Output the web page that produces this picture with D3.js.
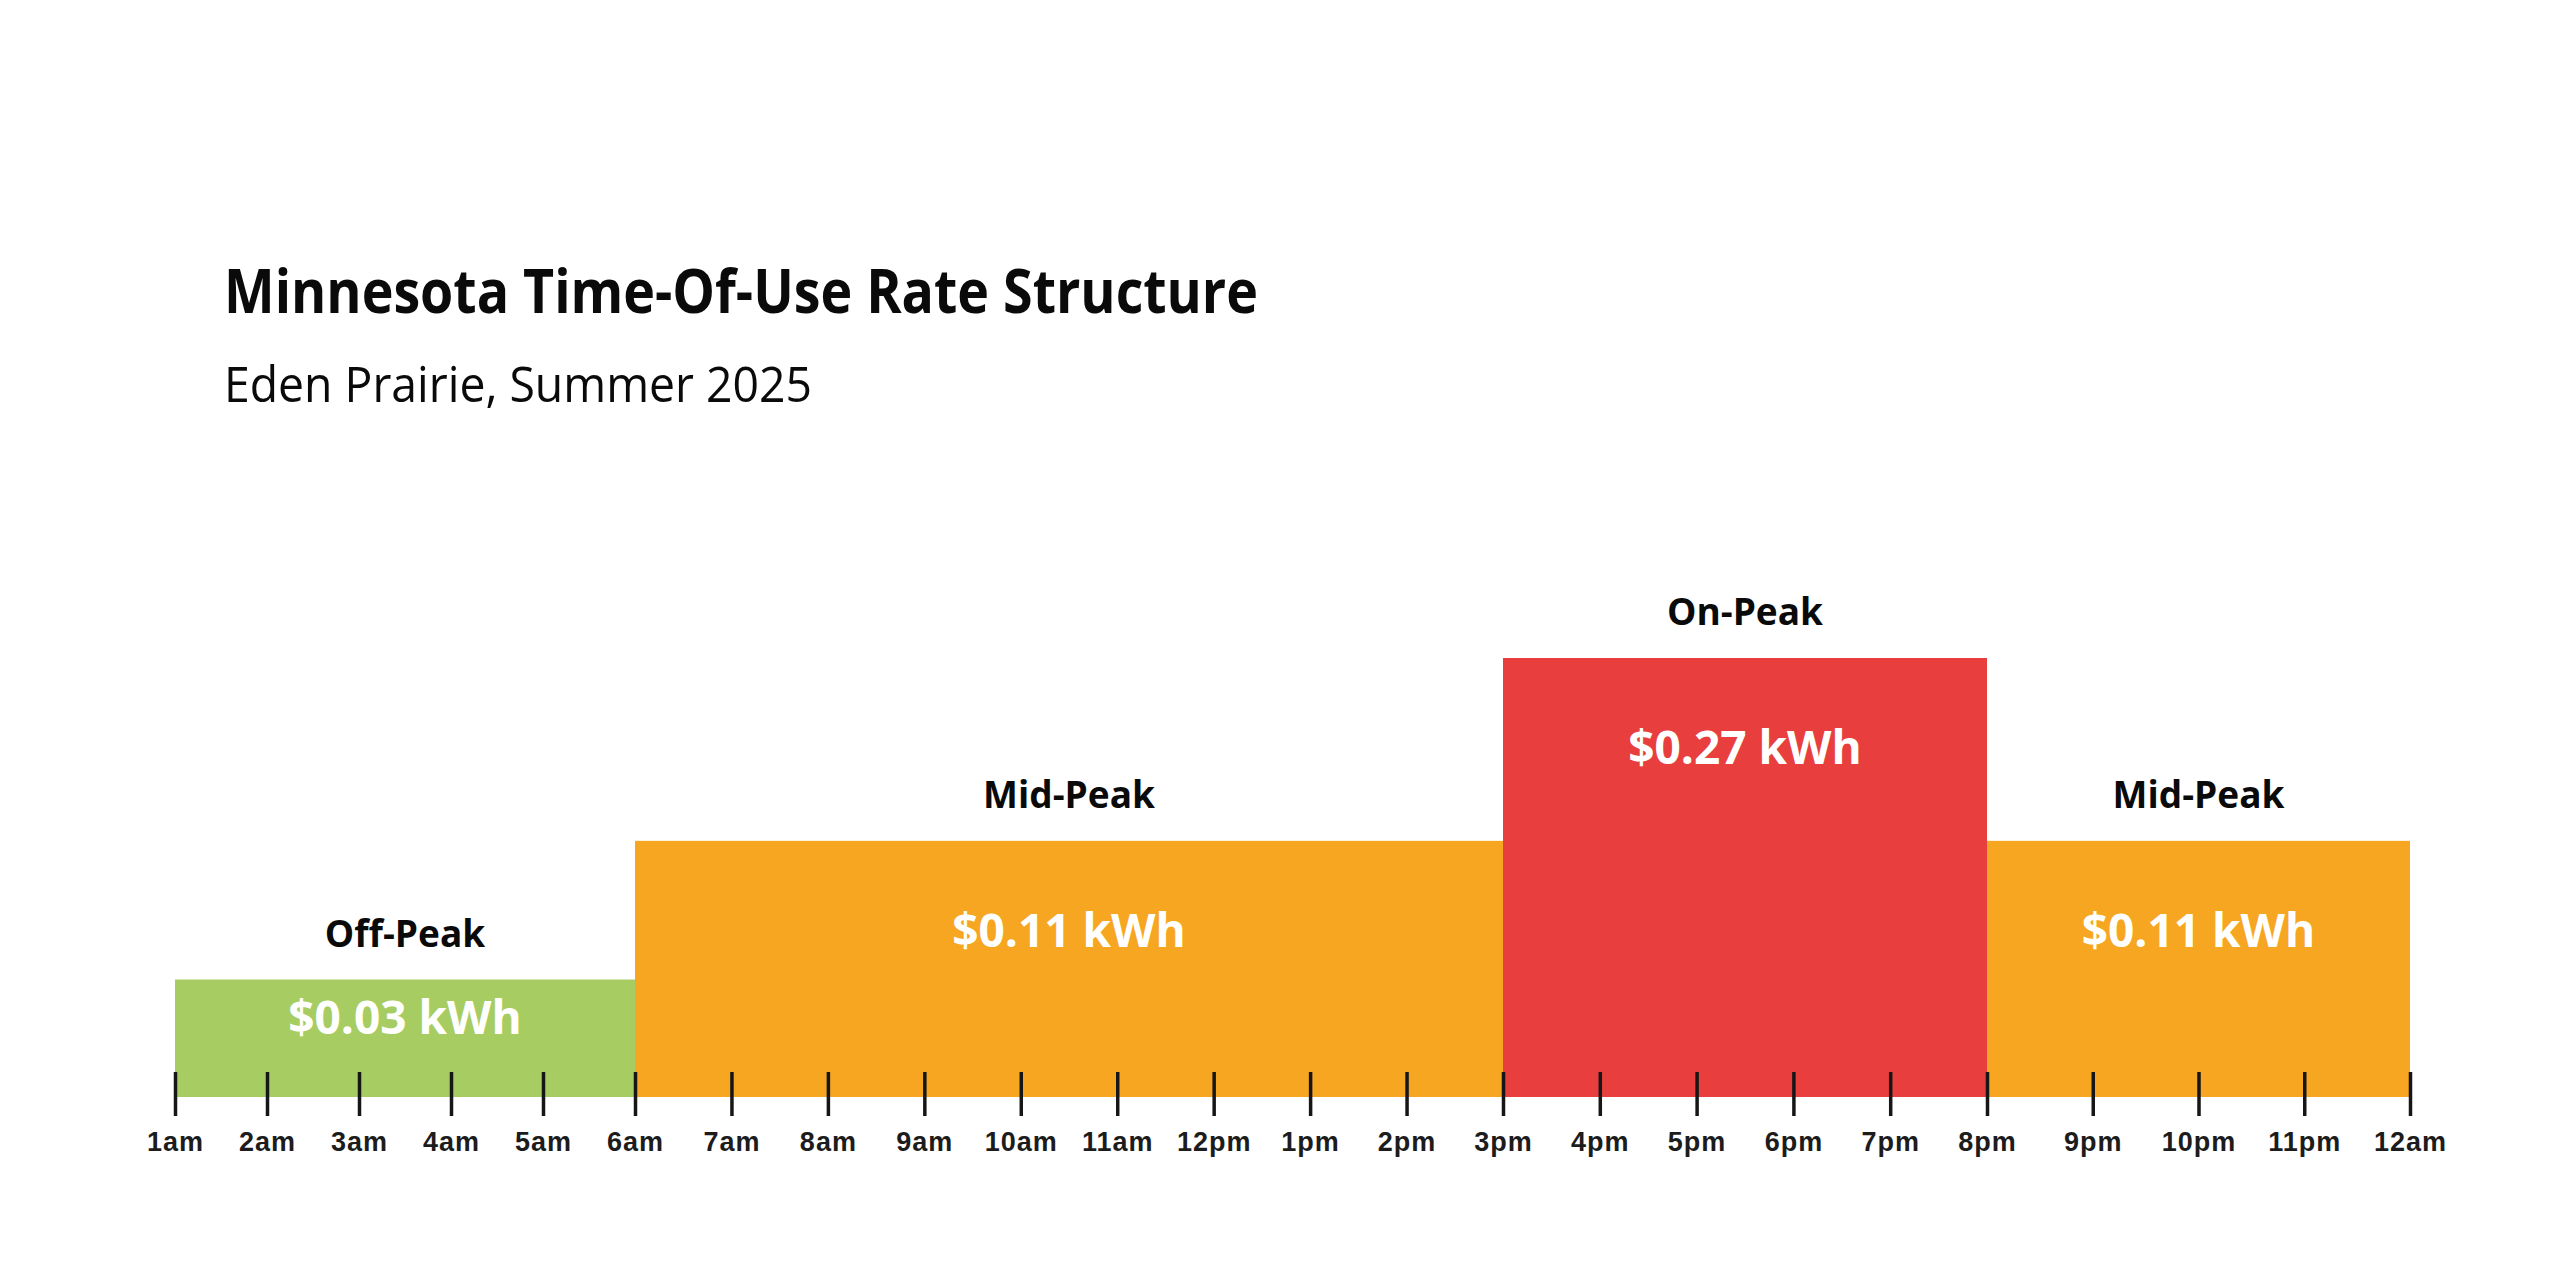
<!DOCTYPE html>
<html>
<head>
<meta charset="utf-8">
<script src="https://cdn.jsdelivr.net/npm/d3@7"></script>
<style>
	html, body { margin: 0; padding: 0; background: #fff; }
	svg { display: block; }
</style>
</head>
<body>
<div id="main"></div>
<script>
const periods = ["Off-Peak", "Mid-Peak", "On-Peak", "Mid-Peak"];
const startHours = [1, 6, 15, 20];
const endHours = [6, 15, 20, 24];
const rates = [0.03, 0.11, 0.27, 0.11];
const hourLabels = [
	"1am", "2am", "3am", "4am", "5am", "6am", "7am", "8am", "9am", "10am", "11am", "12pm",
	"1pm", "2pm", "3pm", "4pm", "5pm", "6pm", "7pm", "8pm", "9pm", "10pm", "11pm", "12am",
];

const periodColors = {
	"Off-Peak": "#a7cd62",
	"Mid-Peak": "#f6a621",
	"On-Peak": "#e83e3d",
};

const sizes = { width: 2560, height: 1280 };
const base = 1097;

const rows = periods.map((p, i) => ({
	period: p,
	start: startHours[i],
	end: endHours[i],
	rate: rates[i],
}));

// the hand-drawn timeline is not quite even, so each period gets its own stretch
const x = d3
	.scaleLinear()
	.domain(startHours.concat([endHours[endHours.length - 1]]))
	.range([175, 635, 1503, 1987, 2410]);
// bar heights in the original grow slower than the rate
const y = d3
	.scalePow()
	.exponent(0.6)
	.domain([0, d3.max(rates)])
	.range([base, 658]);

const svg = d3
	.select("#main")
	.append("svg")
	.attr("width", sizes.width)
	.attr("height", sizes.height);

svg.append("text")
	.attr("x", 224)
	.attr("y", 313)
	.attr("textLength", 1034)
	.attr("lengthAdjust", "spacingAndGlyphs")
	.style("font-family", "'Open Sans', 'Noto Sans', sans-serif")
	.style("font-weight", 700)
	.style("font-size", "61px")
	.style("fill", "#0a0a0a")
	.text("Minnesota Time-Of-Use Rate Structure");

svg.append("text")
	.attr("x", 224)
	.attr("y", 402)
	.attr("textLength", 588)
	.attr("lengthAdjust", "spacingAndGlyphs")
	.style("font-family", "'Open Sans', 'Noto Sans', sans-serif")
	.style("font-weight", 400)
	.style("font-size", "50px")
	.style("fill", "#0a0a0a")
	.text("Eden Prairie, Summer 2025");

const guts = svg.append("g").classed("guts", true);

guts.selectAll("rect.period")
	.data(rows)
	.enter()
	.append("rect")
	.classed("period", true)
	.attr("x", (d) => x(d.start))
	.attr("width", (d) => x(d.end) - x(d.start))
	.attr("y", (d) => y(d.rate))
	.attr("height", (d) => base - y(d.rate))
	.style("fill", (d) => periodColors[d.period]);

guts.selectAll("text.name")
	.data(rows)
	.enter()
	.append("text")
	.classed("name", true)
	.attr("x", (d) => (x(d.start) + x(d.end)) / 2)
	.attr("y", (d) => y(d.rate) - 33)
	.attr("text-anchor", "middle")
	.style("font-family", "'Open Sans', 'Noto Sans', sans-serif")
	.style("font-weight", 700)
	.style("font-size", "37px")
	.style("fill", "#0a0a0a")
	.text((d) => d.period);

guts.selectAll("text.rate")
	.data(rows)
	.enter()
	.append("text")
	.classed("rate", true)
	.attr("x", (d) => (x(d.start) + x(d.end)) / 2)
	.attr("y", (d) => {
		const h = base - y(d.rate);
		return y(d.rate) + Math.min(106, h / 2 - 4);
	})
	.attr("text-anchor", "middle")
	.style("font-family", "'Open Sans', 'Noto Sans', sans-serif")
	.style("font-weight", 700)
	.style("font-size", "46px")
	.style("fill", "#ffffff")
	.text((d) => `$${d.rate.toFixed(2)} kWh`);

const xAxis = guts
	.append("g")
	.classed("axis", true)
	.attr("transform", "translate(0,1072)")
	.call(
		d3
			.axisBottom(x)
			.tickValues(d3.range(1, 25))
			.tickSize(44)
			.tickPadding(16)
			.tickFormat((d) => hourLabels[d - 1])
	);

xAxis.select(".domain").remove();
xAxis.selectAll(".tick line")
	.attr("stroke", "#161616")
	.attr("stroke-width", 3.5);
xAxis.selectAll(".tick text")
	.style("font-family", "'Liberation Sans', Arial, sans-serif")
	.style("font-weight", 700)
	.style("font-size", "27px")
	.style("letter-spacing", "1px")
	.style("fill", "#1c1c1c");
</script>
</body>
</html>
